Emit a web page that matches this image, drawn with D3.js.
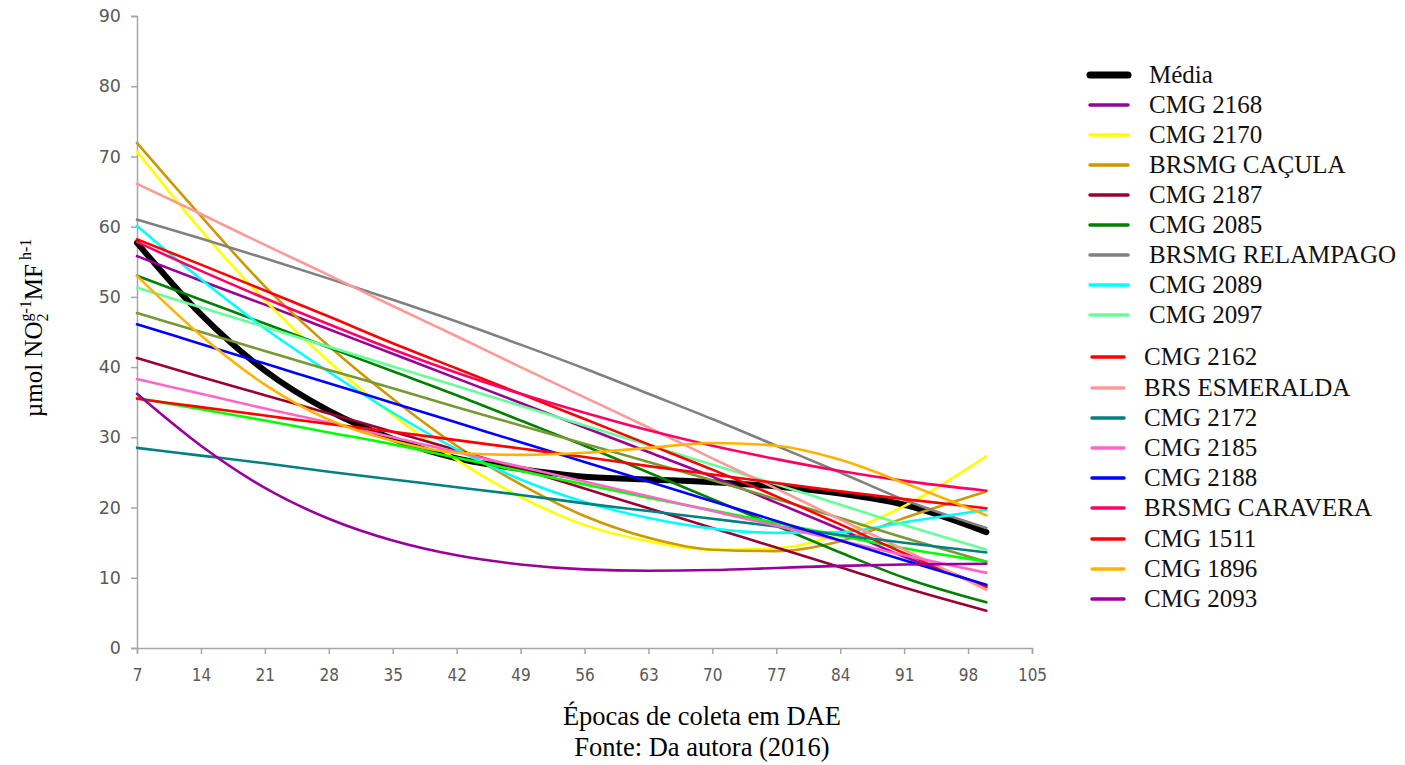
<!DOCTYPE html>
<html>
<head>
<meta charset="utf-8">
<script src="https://cdn.jsdelivr.net/npm/d3@7"></script>
<style>
  body { margin: 0; background: #fff; }
  .tick text { fill: #595959; }
</style>
</head>
<body>
<svg id="chart" width="1405" height="765"></svg>
<script>
// sampling days (DAE) at which the fitted curves were read
var days = [7, 14, 21, 28, 35, 42, 49, 56, 63, 70, 77, 84, 91, 100];
var xTicks = [7, 14, 21, 28, 35, 42, 49, 56, 63, 70, 77, 84, 91, 98, 105];
var yTicks = [0, 10, 20, 30, 40, 50, 60, 70, 80, 90];

var media      = [57.7, 47.5, 39.5, 33.8, 29.8, 27.0, 25.5, 24.4, 24.0, 23.6, 23.0, 22.0, 20.4, 16.5];
var cmg2168    = [55.8, 52.3, 48.9, 45.4, 41.9, 38.4, 34.9, 31.4, 27.9, 24.4, 20.7, 16.9, 13.0, 8.9];
var cmg2170    = [70.7, 59.5, 49.5, 40.8, 33.2, 26.8, 21.5, 17.5, 15.2, 14.0, 14.2, 16.3, 20.2, 27.3];
var cacula     = [71.9, 61.5, 51.5, 43.0, 35.5, 28.8, 23.3, 18.8, 15.7, 14.0, 13.8, 15.2, 18.5, 22.3];
var cmg2187    = [41.3, 38.6, 36.0, 33.4, 30.8, 28.2, 25.5, 22.7, 19.9, 17.1, 14.3, 11.5, 8.6, 5.3];
var cmg2085    = [53.0, 49.6, 46.2, 42.8, 39.4, 36.0, 32.4, 28.8, 25.0, 21.2, 17.4, 13.6, 10.0, 6.5];
var relampago  = [61.0, 58.3, 55.5, 52.6, 49.6, 46.5, 43.2, 39.8, 36.2, 32.6, 28.8, 25.0, 21.1, 17.1];
var cmg2089    = [60.1, 52.5, 45.5, 39.3, 33.5, 28.3, 24.0, 20.8, 18.5, 17.0, 16.4, 16.5, 17.9, 19.7];
var cmg2097    = [51.3, 48.5, 45.7, 42.9, 40.1, 37.3, 34.5, 31.7, 28.9, 26.1, 23.3, 20.4, 17.5, 14.0];
var cmg2162    = [58.2, 54.6, 50.9, 47.2, 43.4, 39.8, 36.2, 32.6, 29.0, 25.4, 21.6, 17.6, 13.5, 8.7];
var esmeralda  = [66.1, 61.8, 57.4, 53.1, 48.7, 44.4, 40.0, 35.7, 31.4, 27.0, 22.7, 18.3, 14.0, 8.3];
var cmg2172    = [28.5, 27.4, 26.3, 25.1, 24.0, 22.9, 21.8, 20.6, 19.5, 18.4, 17.3, 16.1, 15.0, 13.6];
var cmg2185    = [38.3, 36.2, 34.1, 32.1, 30.0, 27.9, 25.8, 23.7, 21.6, 19.5, 17.4, 15.3, 13.2, 10.7];
var cmg2188    = [46.1, 43.3, 40.5, 37.7, 34.9, 32.1, 29.3, 26.5, 23.7, 20.9, 18.1, 15.3, 12.5, 9.0];
var caravera   = [57.8, 53.7, 49.8, 46.1, 42.5, 39.2, 36.2, 33.5, 31.0, 28.8, 26.9, 25.2, 23.8, 22.4];
var cmg1511    = [35.5, 34.3, 33.1, 31.9, 30.8, 29.6, 28.4, 27.2, 25.9, 24.7, 23.5, 22.3, 21.2, 19.9];
var cmg1896    = [53.0, 44.5, 37.5, 32.5, 29.5, 27.8, 27.5, 27.8, 28.5, 29.2, 28.8, 26.8, 23.5, 18.9];
var cmg2093    = [36.2, 28.8, 22.8, 18.4, 15.3, 13.2, 11.9, 11.2, 11.0, 11.1, 11.4, 11.7, 11.9, 12.0];
// two curves drawn in the plot without a legend entry
var semLegendaA = [47.7, 45.0, 42.3, 39.6, 37.0, 34.3, 31.7, 29.1, 26.5, 23.9, 21.2, 18.5, 15.7, 12.3];
var semLegendaB = [35.6, 34.0, 32.4, 30.7, 29.0, 27.1, 25.2, 23.3, 21.4, 19.6, 17.8, 16.0, 14.2, 12.3];

var series = [
  {name: 'Média', values: media, color: '#000000', width: 6},
  {name: 'CMG 2168', values: cmg2168, color: '#990099'},
  {name: 'CMG 2170', values: cmg2170, color: '#FFFF00'},
  {name: 'BRSMG CAÇULA', values: cacula, color: '#CC9900'},
  {name: 'CMG 2187', values: cmg2187, color: '#990033'},
  {name: 'CMG 2085', values: cmg2085, color: '#008000'},
  {name: 'BRSMG RELAMPAGO', values: relampago, color: '#808080'},
  {name: 'CMG 2089', values: cmg2089, color: '#00FFFF'},
  {name: 'CMG 2097', values: cmg2097, color: '#66FF99'},
  {name: null, values: semLegendaA, color: '#779933'},
  {name: null, values: semLegendaB, color: '#00FF00'},
  {name: 'CMG 2162', values: cmg2162, color: '#FF0000'},
  {name: 'BRS ESMERALDA', values: esmeralda, color: '#FF9999'},
  {name: 'CMG 2172', values: cmg2172, color: '#008080'},
  {name: 'CMG 2185', values: cmg2185, color: '#FF66CC'},
  {name: 'CMG 2188', values: cmg2188, color: '#0000FF'},
  {name: 'BRSMG CARAVERA', values: caravera, color: '#FF0066'},
  {name: 'CMG 1511', values: cmg1511, color: '#FF0000'},
  {name: 'CMG 1896', values: cmg1896, color: '#FFB300'},
  {name: 'CMG 2093', values: cmg2093, color: '#990099'}
];

var serif = '"Liberation Serif", "Times New Roman", serif';
var svg = d3.select('#chart');
var x = d3.scaleLinear().domain([7, 105]).range([137, 1032]);
var y = d3.scaleLinear().domain([0, 90]).range([648, 16]);

// axes
var yAxis = svg.append('g')
    .attr('transform', 'translate(137,0)')
    .call(d3.axisLeft(y).tickValues(yTicks).tickSize(6).tickPadding(10));
yAxis.selectAll('text')
    .style('font-family', 'DejaVu Sans, Verdana, sans-serif')
    .style('font-size', '17.5px');

var xAxis = svg.append('g')
    .attr('transform', 'translate(0,648)')
    .call(d3.axisBottom(x).tickValues(xTicks).tickSize(6).tickPadding(15));
xAxis.selectAll('text')
    .style('font-family', '"DejaVu Sans Condensed", "Liberation Sans Narrow", sans-serif')
    .style('font-size', '17px');

svg.selectAll('.domain, .tick line').attr('stroke', '#A6A6A6').attr('stroke-width', 1.5);

// curves
var line = d3.line()
    .x(function(d, i) { return x(days[i]); })
    .y(function(d) { return y(d); })
    .curve(d3.curveMonotoneX);

svg.append('g').selectAll('path')
    .data(series)
  .enter().append('path')
    .attr('d', function(d) { return line(d.values); })
    .attr('fill', 'none')
    .attr('stroke', function(d) { return d.color; })
    .attr('stroke-width', function(d) { return d.width || 2.6; })
    .attr('stroke-linecap', 'round');

// legend
var legendItems = series.filter(function(d) { return d.name; });
var legendY = [75, 105, 135, 165, 195, 225, 255, 285, 315, 357, 388, 418, 448, 478, 508, 539, 569, 599];
var legend = svg.append('g').selectAll('g')
    .data(legendItems)
  .enter().append('g')
    .attr('transform', function(d, i) { return 'translate(0,' + legendY[i] + ')'; });

legend.append('line')
    .attr('x1', function(d, i) { return i < 9 ? 1090 : 1092; })
    .attr('x2', function(d, i) { return i < 9 ? 1128 : 1124; })
    .attr('stroke', function(d) { return d.color; })
    .attr('stroke-width', function(d) { return d.width ? 7 : 3.5; })
    .attr('stroke-linecap', 'round');

legend.append('text')
    .attr('x', function(d, i) { return i < 9 ? 1149 : 1144; })
    .attr('dy', '0.33em')
    .style('font-family', serif)
    .style('font-size', '25px')
    .style('fill', '#111')
    .text(function(d) { return d.name; });

// axis titles
svg.append('text')
    .attr('x', 702).attr('y', 725)
    .attr('text-anchor', 'middle')
    .style('font-family', serif)
    .style('font-size', '26.5px')
    .text('Épocas de coleta em DAE');

svg.append('text')
    .attr('x', 702).attr('y', 756)
    .attr('text-anchor', 'middle')
    .style('font-family', serif)
    .style('font-size', '26.5px')
    .text('Fonte: Da autora (2016)');

var yTitle = svg.append('text')
    .attr('transform', 'translate(42,328) rotate(-90)')
    .attr('text-anchor', 'middle')
    .style('font-family', serif)
    .style('font-size', '25px');
yTitle.append('tspan').text('µmol NO');
yTitle.append('tspan').attr('dy', 6).style('font-size', '16px').text('2');
yTitle.append('tspan').attr('dx', -8).attr('dy', -17).style('font-size', '16px').text('g-1');
yTitle.append('tspan').attr('dy', 11).text('MF');
yTitle.append('tspan').attr('dy', -11).style('font-size', '16px').text(' h-1');
</script>
</body>
</html>
